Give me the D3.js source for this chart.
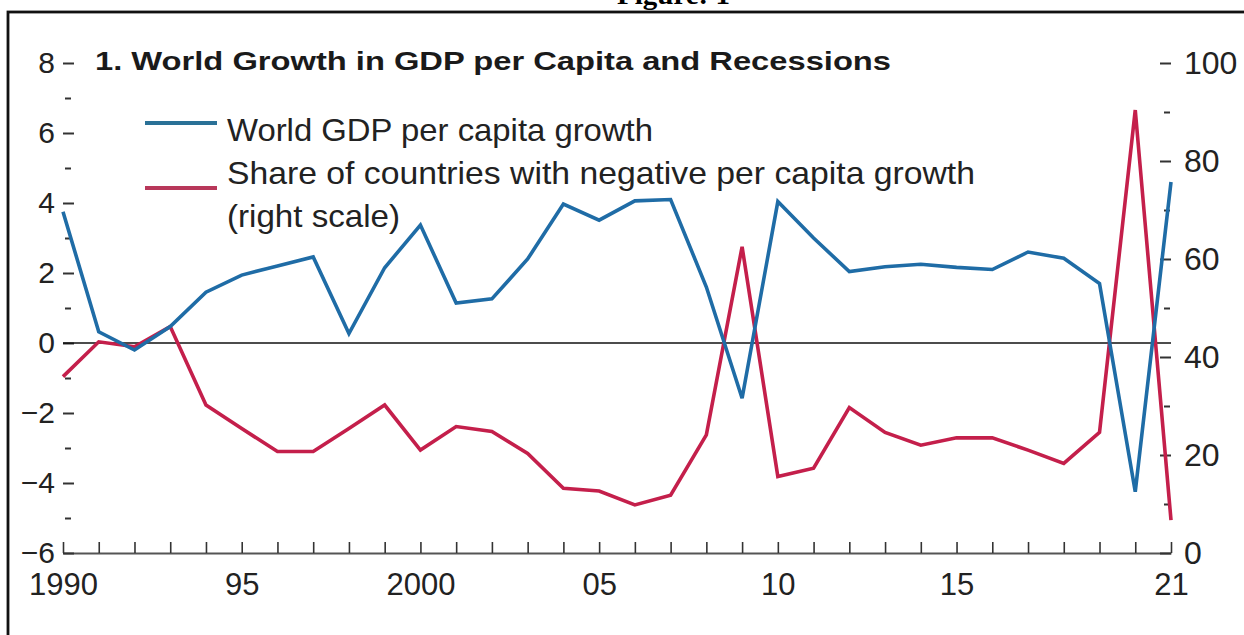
<!DOCTYPE html>
<html>
<head>
<meta charset="utf-8">
<script src="https://cdn.jsdelivr.net/npm/d3@7"></script>
<style>
  body { margin: 0; background: #fff; }
  svg { display: block; font-family: "Liberation Sans", Arial, sans-serif; }
  .axis text { fill: #222; }
  .axis line { stroke: #333; }
</style>
</head>
<body>
<div id="chart"></div>
<script>

var years = [1990, 1991, 1992, 1993, 1994, 1995, 1996, 1997, 1998, 1999,
             2000, 2001, 2002, 2003, 2004, 2005, 2006, 2007, 2008, 2009,
             2010, 2011, 2012, 2013, 2014, 2015, 2016, 2017, 2018, 2019,
             2020, 2021];

// world GDP per capita growth, percent (left scale)
var gdpGrowth = [3.75, 0.32, -0.2, 0.47, 1.45, 1.94, 2.2, 2.46, 0.27, 2.15,
                 3.37, 1.14, 1.26, 2.4, 3.97, 3.51, 4.06, 4.1, 1.6, -1.58,
                 4.04, 3.0, 2.04, 2.18, 2.25, 2.16, 2.1, 2.6, 2.42, 1.7,
                 -4.25, 4.6];

// share of countries with negative per capita growth, percent (right scale)
var negShare = [36.0, 43.1, 42.1, 46.2, 30.2, 25.4, 20.7, 20.7, 25.4, 30.2,
                21.0, 25.8, 24.8, 20.3, 13.2, 12.65, 9.8, 11.8, 24.1, 62.5,
                15.6, 17.3, 29.7, 24.6, 22.0, 23.5, 23.5, 21.0, 18.3, 24.6,
                90.4, 6.7];

var leftTicks = [-6, -4, -2, 0, 2, 4, 6, 8];
var leftMinor = [-5, -3, -1, 1, 3, 5, 7];
var rightTicks = [0, 20, 40, 60, 80, 100];
var rightMinor = [10, 30, 50, 70, 90];
var yearLabels = { 1990: '1990', 1995: '95', 2000: '2000', 2005: '05', 2010: '10', 2015: '15', 2021: '21' };

var seriesNames = ['World GDP per capita growth',
                   'Share of countries with negative per capita growth',
                   '(right scale)'];

var blue = '#1f6ca6';
var red = '#c41f4b';

var width = 1244, height = 635;

var svg = d3.select('#chart')
  .append('svg')
    .attr('width', width)
    .attr('height', height);

// frame
svg.append('rect')
    .attr('x', 8)
    .attr('y', 12)
    .attr('width', 1260)
    .attr('height', 660)
    .attr('fill', 'none')
    .attr('stroke', '#111')
    .attr('stroke-width', 2.8);

svg.append('text')
    .attr('x', 617)
    .attr('y', 4)
    .attr('font-family', '"Liberation Serif", "Times New Roman", serif')
    .attr('font-weight', 'bold')
    .attr('font-size', 28)
    .attr('textLength', 113)
    .attr('lengthAdjust', 'spacingAndGlyphs')
    .text('Figure: 1');

var x = d3.scaleLinear()
  .domain([1990, 2021])
  .range([63, 1171]);

var yL = d3.scaleLinear()
  .domain([-6, 8])
  .range([553, 63]);

var yR = d3.scaleLinear()
  .domain([0, 100])
  .range([553, 63]);

// x axis
var xAxis = svg.append('g')
    .attr('class', 'axis')
    .attr('transform', 'translate(0,553)')
    .call(d3.axisBottom(x)
      .tickValues(years)
      .tickSize(-11)
      .tickSizeOuter(0)
      .tickPadding(20)
      .tickFormat(function (d) { return yearLabels[d] || ''; })
    );

xAxis.select('.domain')
    .attr('stroke', '#555')
    .attr('stroke-width', 2.2);
xAxis.selectAll('line').attr('stroke-width', 1.6).attr('stroke', '#444');
xAxis.selectAll('text').attr('font-size', 31);

// left axis
var leftAxis = svg.append('g')
    .attr('class', 'axis')
    .attr('transform', 'translate(63,0)')
    .call(d3.axisLeft(yL)
      .tickValues(leftTicks)
      .tickSize(-11)
      .tickPadding(8)
    );
leftAxis.select('.domain').remove();
leftAxis.selectAll('line').attr('stroke-width', 2);
leftAxis.selectAll('text').attr('font-size', 30);

var leftMinorAxis = svg.append('g')
    .attr('class', 'axis')
    .attr('transform', 'translate(65,0)')
    .call(d3.axisLeft(yL)
      .tickValues(leftMinor)
      .tickSize(-6)
      .tickFormat('')
    );
leftMinorAxis.select('.domain').remove();
leftMinorAxis.selectAll('line').attr('stroke-width', 2);

// right axis
var rightAxis = svg.append('g')
    .attr('class', 'axis')
    .attr('transform', 'translate(1171,0)')
    .call(d3.axisRight(yR)
      .tickValues(rightTicks)
      .tickSize(-11)
      .tickPadding(13)
    );
rightAxis.select('.domain').remove();
rightAxis.selectAll('line').attr('stroke-width', 2);
rightAxis.selectAll('text').attr('font-size', 32);

var rightMinorAxis = svg.append('g')
    .attr('class', 'axis')
    .attr('transform', 'translate(1170,0)')
    .call(d3.axisRight(yR)
      .tickValues(rightMinor)
      .tickSize(-6)
      .tickFormat('')
    );
rightMinorAxis.select('.domain').remove();
rightMinorAxis.selectAll('line').attr('stroke-width', 2);

// zero line
svg.append('line')
    .attr('x1', x(1990))
    .attr('x2', x(2021))
    .attr('y1', yL(0))
    .attr('y2', yL(0))
    .attr('stroke', '#111')
    .attr('stroke-width', 1.6);

var lineL = d3.line()
    .x(function (d, i) { return x(years[i]); })
    .y(function (d) { return yL(d); });

var lineR = d3.line()
    .x(function (d, i) { return x(years[i]); })
    .y(function (d) { return yR(d); });

svg.append('path')
    .datum(negShare)
    .attr('d', lineR)
    .attr('fill', 'none')
    .attr('stroke', red)
    .attr('stroke-width', 3.6)
    .attr('stroke-linejoin', 'miter');

svg.append('path')
    .datum(gdpGrowth)
    .attr('d', lineL)
    .attr('fill', 'none')
    .attr('stroke', blue)
    .attr('stroke-width', 3.6)
    .attr('stroke-linejoin', 'miter');

// title
svg.append('text')
    .attr('x', 95)
    .attr('y', 70)
    .attr('font-size', 25)
    .attr('font-weight', 'bold')
    .attr('fill', '#1a1a1a')
    .attr('textLength', 796)
    .attr('lengthAdjust', 'spacingAndGlyphs')
    .text('1. World Growth in GDP per Capita and Recessions');

// legend
var legend = svg.append('g');

legend.append('line')
    .attr('x1', 145).attr('x2', 217)
    .attr('y1', 123).attr('y2', 123)
    .attr('stroke', '#2a7197')
    .attr('stroke-width', 4);

legend.append('line')
    .attr('x1', 145).attr('x2', 217)
    .attr('y1', 188).attr('y2', 188)
    .attr('stroke', '#b8375a')
    .attr('stroke-width', 4);

var legendLengths = [426, 748, 173];

legend.selectAll('text')
    .data(seriesNames)
    .enter()
  .append('text')
    .attr('x', 227)
    .attr('y', function (d, i) { return 141 + i * 43; })
    .attr('font-size', 32)
    .attr('fill', '#222')
    .attr('textLength', function (d, i) { return legendLengths[i]; })
    .attr('lengthAdjust', 'spacingAndGlyphs')
    .text(function (d) { return d; });

</script>
</body>
</html>
